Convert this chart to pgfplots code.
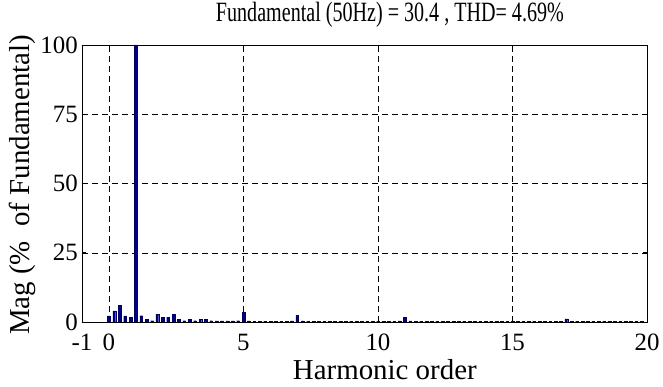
\documentclass[border=0pt]{standalone}
\usepackage{pgfplots}
\pgfplotsset{compat=1.18}
\usepackage{pgfplotstable}
\usepackage{fontspec}
\setmainfont{Liberation Serif}
\newfontfamily\titlefont{Liberation Serif}[FakeStretch=0.72]
\definecolor{barblue}{rgb}{0.0,0.0,0.55}
\pgfplotstableread{
h mag
0.0 2.2
0.2 4.0
0.4 6.0
0.6 2.2
0.8 1.6
1.0 100
1.2 2.3
1.4 1.0
1.6 0.5
1.8 2.8
2.0 1.8
2.2 1.8
2.4 2.8
2.6 1.0
2.8 0.5
3.0 1.0
3.2 0.5
3.4 1.0
3.6 1.0
3.8 0.5
4.0 0.4
4.2 0.4
4.4 0.4
4.6 0.4
4.8 0.5
5.0 3.4
5.2 0.4
5.4 0.3
5.6 0.3
5.8 0.3
6.0 0.3
6.2 0.3
6.4 0.3
6.6 0.3
6.8 0.4
7.0 2.4
7.2 0.4
7.4 0.3
7.6 0.3
7.8 0.3
8.0 0.3
8.2 0.3
8.4 0.3
8.6 0.3
8.8 0.3
9.0 0.3
9.2 0.3
9.4 0.3
9.6 0.3
9.8 0.3
10.0 0.3
10.2 0.3
10.4 0.3
10.6 0.3
10.8 0.4
11.0 1.7
11.2 0.4
11.4 0.3
11.6 0.3
11.8 0.3
12.0 0.3
12.2 0.3
12.4 0.3
12.6 0.3
12.8 0.3
13.0 0.3
13.2 0.3
13.4 0.3
13.6 0.3
13.8 0.3
14.0 0.3
14.2 0.3
14.4 0.3
14.6 0.3
14.8 0.3
15.0 0.3
15.2 0.3
15.4 0.3
15.6 0.3
15.8 0.3
16.0 0.3
16.2 0.3
16.4 0.3
16.6 0.3
16.8 0.3
17.0 1.1
17.2 0.3
17.4 0.3
17.6 0.3
17.8 0.3
18.0 0.3
18.2 0.3
18.4 0.3
18.6 0.3
18.8 0.3
19.0 0.3
19.2 0.3
19.4 0.3
19.6 0.3
19.8 0.3
}\harm
\begin{document}
\begin{tikzpicture}
\begin{axis}[
  name=ax,
  at={(0,0)}, anchor=south west,
  scale only axis,
  width=565bp, height=277bp,
  xmin=-1, xmax=20, ymin=0, ymax=100,
  xtick={-1,0,5,10,15,20},
  ytick={0,25,50,75,100},
  tick align=inside,
  major tick length=4bp,
  tick style={black, line width=0.6pt},
  axis line style={black, line width=0.8pt},
  grid=major,
  major grid style={black, line width=0.5pt, dash pattern=on 6bp off 4bp},
  /pgf/number format/assume math mode=true,
  tick label style={font=\fontsize{25}{27}\selectfont, inner sep=1bp},
  xticklabel style={yshift=-11bp},
  yticklabel style={xshift=-3bp},
  title style={font=\titlefont\fontsize{28}{30}\selectfont, at={(rel axis cs:0.545,1.063)}, anchor=base},
  title={Fundamental (50Hz) = 30.4 , THD= 4.69\%},
  xlabel={Harmonic order},
  xlabel style={font=\fontsize{29}{31}\selectfont, at={(rel axis cs:0.536,-0.206)}, anchor=base},
  ylabel={Mag (\%~ of Fundamental)},
  ylabel style={font=\fontsize{29}{31}\selectfont, at={(rel axis cs:-0.106,0.495)}, anchor=center},
]
\addplot[ybar, bar width=0.1, fill=barblue, draw=barblue!70!black, line width=0.2pt] table[x=h, y=mag] {\harm};
\end{axis}
\pgfresetboundingbox
\path[use as bounding box] (-82bp,-65bp) rectangle (581bp,322bp);
\end{tikzpicture}
\end{document}
